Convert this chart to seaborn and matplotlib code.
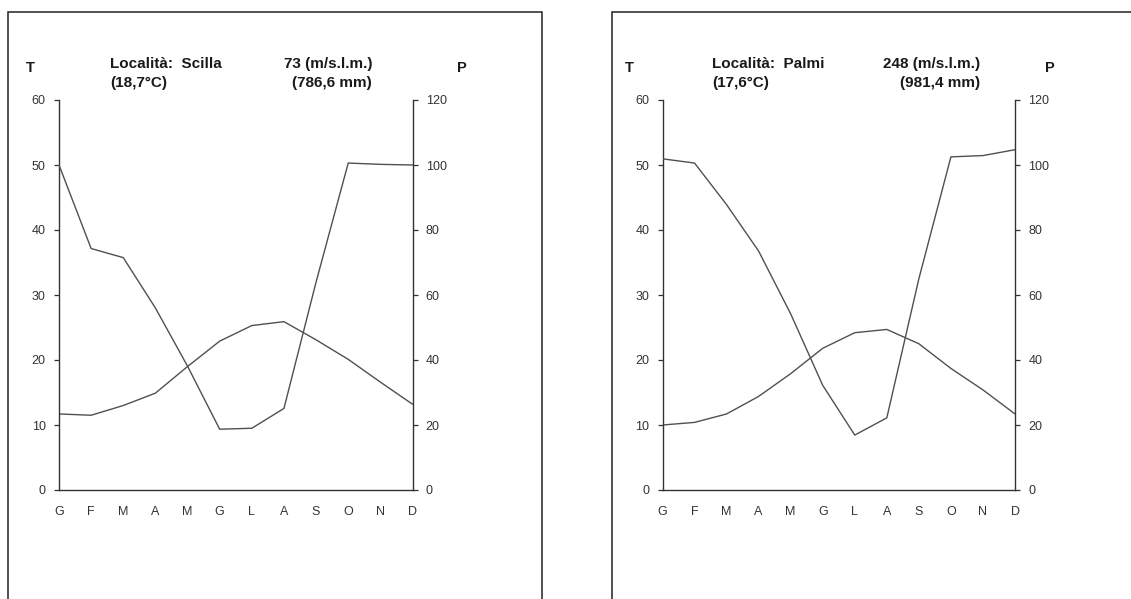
import matplotlib
matplotlib.use("Agg")
import matplotlib.pyplot as plt
from matplotlib.patches import Rectangle
import seaborn as sns
import pandas as pd

# months and monthly values
months = ["G", "F", "M", "A", "M", "G", "L", "A", "S", "O", "N", "D"]
month_idx = list(range(12))

scilla_t = [11.7, 11.5, 13.0, 14.9, 19.0, 22.9, 25.3, 25.9, 23.1, 20.1, 16.6, 13.2]
scilla_p = [100.0, 74.3, 71.5, 56.0, 38.1, 18.7, 19.0, 25.1, 64.0, 100.6, 100.2, 100.0]
palmi_t = [10.0, 10.4, 11.7, 14.4, 17.9, 21.8, 24.2, 24.7, 22.5, 18.7, 15.4, 11.7]
palmi_p = [101.9, 100.6, 87.8, 73.5, 54.2, 32.2, 16.9, 22.2, 65.0, 102.5, 102.9, 104.7]

t_ticks = [0, 10, 20, 30, 40, 50, 60]
p_ticks = [0, 20, 40, 60, 80, 100, 120]

stations = [
    {"name": "Scilla", "alt": "73 (m/s.l.m.)", "tmean": "(18,7°C)", "ptot": "(786,6 mm)",
     "t": scilla_t, "p": scilla_p},
    {"name": "Palmi", "alt": "248 (m/s.l.m.)", "tmean": "(17,6°C)", "ptot": "(981,4 mm)",
     "t": palmi_t, "p": palmi_p},
]

sns.set_style("white")
plt.rcParams["font.family"] = ["Liberation Sans", "DejaVu Sans"]

W, H = 1131, 599
fig = plt.figure(figsize=(W / 100, H / 100), dpi=100)

def fx(px):
    return px / W

def fy(py):
    return 1 - py / H

# layout in pixels: (axes left, axes right, box left, box right, T x, P x, text left, text right)
layout = [
    (59, 412.5, 8, 542, 30, 462, 110, 372),
    (662.5, 1015, 611.5, 1145, 629, 1050, 712, 980),
]

line_col = "#505050"
spine_col = "#333333"
txt_col = "#1a1a1a"

for st, (a0, a1, b0, b1, tx, px_, l0, l1) in zip(stations, layout):
    # frame around each diagram
    fig.add_artist(Rectangle((fx(b0), -0.1), fx(b1) - fx(b0), fy(11.7) + 0.1,
                             transform=fig.transFigure, fill=False,
                             ec="#222222", lw=1.1))

    ax = fig.add_axes([fx(a0), fy(490), fx(a1) - fx(a0), fy(100) - fy(490)])
    df = pd.DataFrame({"m": month_idx, "T": st["t"], "P": st["p"]})
    sns.lineplot(data=df, x="m", y="T", ax=ax, color=line_col, lw=1.0)
    ax.set_xlim(0, 11)
    ax.set_ylim(0, 60)
    ax.set_yticks(t_ticks)
    ax.set_xticks(month_idx)
    ax.set_xticklabels(months)
    ax.set_xlabel("")
    ax.set_ylabel("")

    ax2 = ax.twinx()
    sns.lineplot(data=df, x="m", y="P", ax=ax2, color=line_col, lw=1.0)
    ax2.set_ylim(0, 120)
    ax2.set_yticks(p_ticks)
    ax2.set_ylabel("")
    ax2.set_xlim(0, 11)

    for a in (ax, ax2):
        a.patch.set_alpha(0)
        a.spines["top"].set_visible(False)
        for s in ("left", "right", "bottom"):
            a.spines[s].set_color(spine_col)
            a.spines[s].set_linewidth(1.0)
        a.tick_params(length=3.5, width=0.9, color=spine_col, labelsize=9,
                      labelcolor="#333333", pad=6)
    ax.spines["right"].set_visible(False)
    ax2.spines["left"].set_visible(False)
    ax2.spines["bottom"].set_visible(False)
    ax.tick_params(axis="x", pad=8)
    ax.tick_params(axis="y", left=True)
    ax2.tick_params(axis="y", right=True)

    fig.text(fx(tx), fy(68), "T", ha="center", va="center", fontsize=10.5,
             fontweight="bold", color=txt_col)
    fig.text(fx(px_), fy(68), "P", ha="center", va="center", fontsize=10.5,
             fontweight="bold", color=txt_col)
    fig.text(fx(l0), fy(64), "Località:  " + st["name"], ha="left", va="center",
             fontsize=11, fontweight="bold", color=txt_col)
    fig.text(fx(l1), fy(64), st["alt"], ha="right", va="center",
             fontsize=11, fontweight="bold", color=txt_col)
    fig.text(fx(l0), fy(83), st["tmean"], ha="left", va="center",
             fontsize=11, fontweight="bold", color=txt_col)
    fig.text(fx(l1), fy(83), st["ptot"], ha="right", va="center",
             fontsize=11, fontweight="bold", color=txt_col)

fig.savefig("out.png", dpi=100)
